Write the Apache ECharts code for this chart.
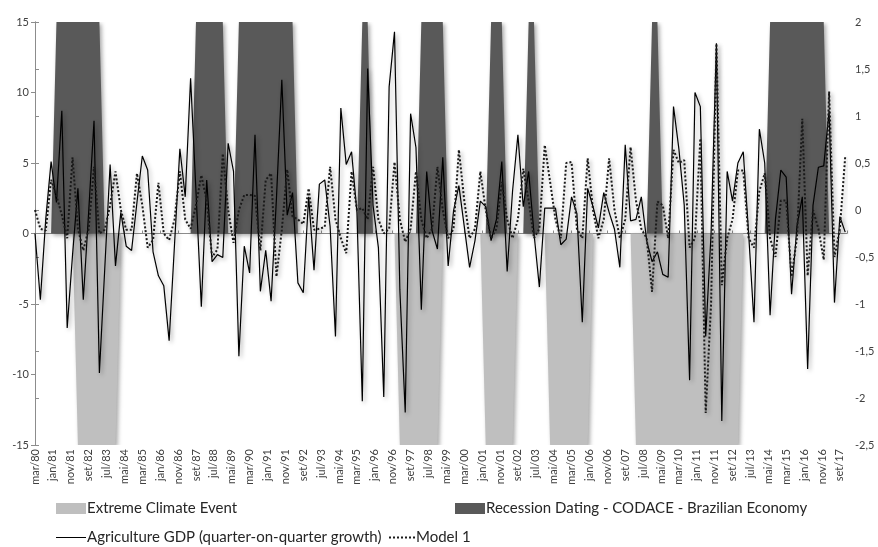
<!DOCTYPE html>
<html>
<head>
<meta charset="utf-8">
<script src="https://cdn.jsdelivr.net/npm/echarts@6/dist/echarts.min.js"></script>
<style>
html,body{margin:0;padding:0;background:#fff;}
#chart{width:878px;height:547px;}
</style>
</head>
<body>
<div id="chart"></div>
<script>
// x-axis tick labels (every 10 months starting mar/80)
const xTickLabels = ['mar/80','jan/81','nov/81','set/82','jul/83','mai/84','mar/85','jan/86','nov/86','set/87',
  'jul/88','mai/89','mar/90','jan/91','nov/91','set/92','jul/93','mai/94','mar/95','jan/96',
  'nov/96','set/97','jul/98','mai/99','mar/00','jan/01','nov/01','set/02','jul/03','mai/04',
  'mar/05','jan/06','nov/06','set/07','jul/08','mai/09','mar/10','jan/11','nov/11','set/12',
  'jul/13','mai/14','mar/15','jan/16','nov/16','set/17'];
const leftTicks = [-15, -10, -5, 0, 5, 10, 15];
const rightTicks = [-2.5, -2, -1.5, -1, -0.5, 0, 0.5, 1, 1.5, 2];

// quarterly observations, mar/80 ... dec/17
const agriGDP = [
  0, -4.7, 1.0, 5.1, 2.2, 8.7, -6.7, -1.5, 3.2, -4.7,
  1.5, 8.0, -9.9, -2.5, 4.9, -2.3, 1.5, -0.9, -1.2, 2.2,
  5.5, 4.5, -1.3, -3.0, -3.7, -7.6, -0.8, 6.0, 2.6, 11.0,
  3.0, -5.2, 3.8, -2.0, -1.5, -1.7, 6.4, 4.4, -8.7, -0.9,
  -2.8, 7.0, -4.1, -1.2, -4.8, 2.5, 10.9, 1.3, 2.9, -3.5,
  -4.2, 2.6, -2.6, 3.5, 3.8, 0.5, -7.3, 8.9, 4.9, 5.8,
  1.5, -11.9, 11.7, 2.0, -1.0, -11.6, 10.4, 14.3, -4.0, -12.7,
  8.5, 6.1, -5.4, 4.4, 0.2, -1.1, 5.4, -2.3, 1.6, 3.4,
  0.5, -2.4, -0.5, 2.3, 1.9, -0.5, 1.0, 5.1, -2.7, 3.0,
  7.0, 1.9, 4.4, 0.0, -3.8, 1.8, 1.8, 1.8, -0.8, -0.4,
  2.6, 1.4, -6.3, 3.2, 1.9, 0.4, 2.9, 1.5, 0.3, -2.4,
  6.3, 0.9, 1.0, 2.6, -0.5, -2.0, -1.3, -2.9, -3.1, 9.0,
  6.0, 2.0, -10.4, 10.0, 9.0, -7.3, 0.0, 13.5, -13.3, 4.4,
  2.3, 5.0, 5.8, 0.0, -6.3, 7.4, 5.0, -5.8, 1.0, 4.5,
  4.0, -4.3, 0.5, 2.6, -9.6, 2.0, 4.7, 4.8, 8.7, -4.9,
  1.2, 0.1
];
const model1 = [
  0.0, -0.2, -0.22, 0.32, 0.15, -0.05, -0.3, 0.56, -0.2, -0.43,
  -0.2, 0.46, -0.25, -0.21, 0.05, 0.41, 0.0, -0.21, -0.21, 0.39,
  0.05, -0.4, -0.32, 0.29, -0.25, -0.32, -0.1, 0.41, -0.1, -0.2,
  0.05, 0.37, 0.1, -0.5, -0.42, 0.6, 0.0, -0.35, 0.0, 0.16,
  0.16, 0.15, -0.43, 0.32, 0.39, -0.71, -0.21, 0.43, -0.07, -0.1,
  -0.15, 0.23, -0.21, -0.2, -0.18, 0.46, -0.1, -0.3, -0.46, 0.41,
  0.0, 0.02, -0.1, 0.46, -0.1, -0.25, -0.2, 0.51, -0.1, -0.34,
  -0.2, 0.41, -0.1, -0.3, -0.2, 0.46, 0.0, -0.3, -0.2, 0.64,
  0.1, -0.3, -0.2, 0.41, 0.0, -0.3, -0.2, 0.3, -0.1, -0.3,
  -0.1, 0.44, 0.1, -0.3, -0.2, 0.69, 0.3, -0.1, -0.3, 0.5,
  0.51, -0.2, -0.3, 0.55, 0.0, -0.3, -0.1, 0.55, 0.0, -0.3,
  -0.1, 0.67, 0.1, -0.2, -0.3, -0.87, 0.09, 0.05, -0.3, 0.64,
  0.5, 0.53, -0.4, -0.3, 0.76, -2.16, -1.0, 1.77, -0.8, -0.3,
  -0.1, 0.42, 0.42, -0.3, -0.4, 0.2, 0.39, -0.3, -0.5, 0.1,
  0.1, -0.71, -0.3, 0.97, -0.7, 0.0, -0.2, -0.53, 1.26, -0.5,
  -0.2, 0.57
];
// period flags (quarter indices, inclusive), counted from mar/80
const recessionPeriods = [[4, 12], [30, 35], [38, 48], [61, 62], [72, 76], [85, 87], [92, 93], [115, 116], [137, 147]];
const climatePeriods = [[8, 15], [68, 75], [84, 89], [96, 103], [112, 131]];
const recessionLevel = 15;
const climateLevel = -15;

const nQ = agriGDP.length;
function qMonth(i) { return i * 3; } // months since mar/80
function flagSeries(periods, level) {
  const out = [];
  for (let i = 0; i < nQ; i++) {
    let v = 0;
    for (const p of periods) if (i >= p[0] && i <= p[1]) v = level;
    out.push([qMonth(i), v]);
  }
  return out;
}
const gdpData = agriGDP.map((v, i) => [qMonth(i), v]);
const modelData = model1.map((v, i) => [qMonth(i), v]);

const FONT = 'Lato, "Open Sans", sans-serif';
const shadow = {shadowColor: 'rgba(0,0,0,0.35)', shadowBlur: 4, shadowOffsetX: 2, shadowOffsetY: 2};
const legendText = {fontSize: 15, color: '#262626', fontFamily: FONT, padding: [0, 0, 0, -4]};
const dotIcon = 'path://M0 0h2v2H0z M4 0h2v2H4z M8 0h2v2H8z M12 0h2v2h-2z M16 0h2v2h-2z M20 0h2v2h-2z M24 0h2v2h-2z';
const lineIcon = 'path://M0 0H30V1H0z';

const chart = echarts.init(document.getElementById('chart'), null, {renderer: 'canvas'});
chart.setOption({
  animation: false,
  backgroundColor: '#ffffff',
  textStyle: {fontFamily: FONT},
  grid: {left: 35, right: 31, top: 22, bottom: 102, containLabel: false},
  xAxis: [{
    type: 'value', min: 0, max: 454, interval: 10,
    axisLine: {show: false, onZero: false}, axisTick: {show: false}, splitLine: {show: false},
    axisLabel: {
      rotate: 90, fontSize: 11, color: '#404040', fontFamily: FONT, margin: 4,
      showMaxLabel: false,
      formatter: function (v) { return (v % 10 === 0 && xTickLabels[v / 10]) ? xTickLabels[v / 10] : ''; }
    }
  }, {
    type: 'value', min: 0, max: 454, interval: 10, position: 'bottom',
    axisLine: {show: true, onZero: true, onZeroAxisIndex: 0, lineStyle: {color: '#8c8c8c', width: 1}},
    axisTick: {show: true, inside: true, length: 3, lineStyle: {color: '#8c8c8c'}},
    axisLabel: {show: false}, splitLine: {show: false}
  }],
  yAxis: [{
    type: 'value', min: -15, max: 15, interval: 5,
    axisLine: {show: true, lineStyle: {color: '#8c8c8c'}},
    axisTick: {show: true, length: 4, lineStyle: {color: '#8c8c8c'}},
    splitLine: {show: false},
    axisLabel: {fontSize: 11, color: '#404040', fontFamily: FONT, margin: 6,
      formatter: function (v) { return leftTicks.indexOf(v) >= 0 ? String(v) : ''; }}
  }, {
    type: 'value', min: -2.5, max: 2, interval: 0.5, position: 'right',
    axisLine: {show: true, lineStyle: {color: '#8c8c8c'}},
    axisTick: {show: true, length: 4, lineStyle: {color: '#8c8c8c'}},
    splitLine: {show: false},
    axisLabel: {fontSize: 11, color: '#404040', fontFamily: FONT, margin: 8,
      formatter: function (v) { return rightTicks.indexOf(v) >= 0 ? String(v).replace('.', ',') : ''; }}
  }],
  legend: [
    {left: 56, top: 501, padding: 0, itemWidth: 30, itemHeight: 11, itemGap: 0, textStyle: legendText,
     data: [{name: 'Extreme Climate Event', icon: 'rect'}]},
    {left: 455, top: 501, padding: 0, itemWidth: 30, itemHeight: 11, itemGap: 0, textStyle: legendText,
     data: [{name: 'Recession Dating - CODACE - Brazilian Economy', icon: 'rect'}]},
    {left: 56, top: 530, padding: 0, itemWidth: 30, itemHeight: 1.2, itemGap: 0, textStyle: legendText,
     data: [{name: 'Agriculture GDP (quarter-on-quarter growth)', icon: lineIcon}]},
    {left: 389, top: 530, padding: 0, itemWidth: 26, itemHeight: 2, itemGap: 0, textStyle: legendText,
     data: [{name: 'Model 1', icon: dotIcon}]}
  ],
  series: [
    {name: 'Extreme Climate Event', type: 'line', xAxisIndex: 0, yAxisIndex: 0, data: flagSeries(climatePeriods, climateLevel),
     symbol: 'none', lineStyle: {width: 0}, itemStyle: {color: '#bfbfbf'},
     areaStyle: Object.assign({color: '#bfbfbf', opacity: 1}, shadow), z: 1},
    {name: 'Recession Dating - CODACE - Brazilian Economy', type: 'line', xAxisIndex: 0, yAxisIndex: 0, data: flagSeries(recessionPeriods, recessionLevel),
     symbol: 'none', lineStyle: {width: 0}, itemStyle: {color: '#595959'},
     areaStyle: Object.assign({color: '#595959', opacity: 1}, shadow), z: 1},
    {name: 'Agriculture GDP (quarter-on-quarter growth)', type: 'line', xAxisIndex: 0, yAxisIndex: 0, data: gdpData,
     symbol: 'none', itemStyle: {color: '#000000'},
     lineStyle: Object.assign({color: '#000000', width: 1.2}, shadow), z: 3},
    {name: 'Model 1', type: 'line', xAxisIndex: 0, yAxisIndex: 1, data: modelData,
     symbol: 'none', itemStyle: {color: '#1a1a1a'},
     lineStyle: Object.assign({color: '#1a1a1a', width: 2, type: [2, 2]}, shadow), z: 4}
  ]
});
</script>
</body>
</html>
